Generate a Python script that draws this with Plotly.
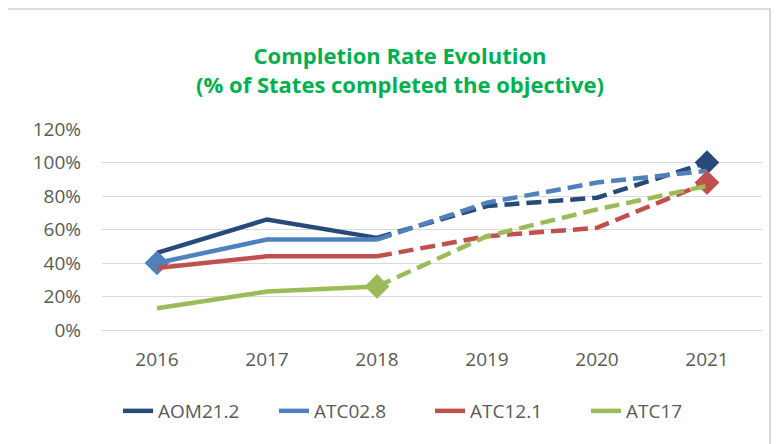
import plotly.graph_objects as go

years = ["2016", "2017", "2018", "2019", "2020", "2021"]
series_names = ["AOM21.2", "ATC02.8", "ATC12.1", "ATC17"]
aom21_2 = [0.46, 0.66, 0.55, 0.74, 0.79, 1.00]
atc02_8 = [0.40, 0.54, 0.54, 0.76, 0.88, 0.95]
atc12_1 = [0.37, 0.44, 0.44, 0.56, 0.61, 0.88]
atc17 = [0.13, 0.23, 0.26, 0.56, 0.72, 0.86]
# index of the point drawn with a diamond marker
marker_idx = [5, 0, 5, 2]
y_ticks = [0, 0.2, 0.4, 0.6, 0.8, 1.0, 1.2]

colors = ["#284A7A", "#4F81BD", "#C0504D", "#9BBB59"]
values = [aom21_2, atc02_8, atc12_1, atc17]

FONT = "Open Sans"
W, H = 775, 436          # page has an 8px body margin
L, R, T, B = 94, 21, 121, 114


def px_x(page_x):
    return (page_x - 8 - L) / (W - L - R)


def px_y(page_y):
    return 1 - (page_y - 8 - T) / (H - T - B)


fig = go.Figure()
for name, vals, col, mi in zip(series_names, values, colors, marker_idx):
    fig.add_trace(go.Scatter(x=years[:3], y=vals[:3], mode="lines", name=name,
                             line=dict(color=col, width=4.5), legendgroup=name))
    fig.add_trace(go.Scatter(x=years[2:], y=vals[2:], mode="lines", name=name,
                             line=dict(color=col, width=4.5, dash="15px,7px"),
                             showlegend=False, legendgroup=name))
    fig.add_trace(go.Scatter(x=[years[mi]], y=[vals[mi]], mode="markers",
                             marker=dict(symbol="diamond", size=19, color=col),
                             showlegend=False, legendgroup=name, hoverinfo="skip"))

fig.update_layout(
    width=W, height=H,
    margin=dict(l=L, r=R, t=T, b=B),
    paper_bgcolor="white", plot_bgcolor="white",
    font=dict(family=FONT, color="#595959", size=19),
    title=dict(text="<b>Completion Rate Evolution<br>(% of States completed the objective)</b>",
               x=(400 - 8) / W, xanchor="center", y=1 - (64 - 8) / H, yanchor="middle",
               font=dict(family=FONT, size=22, color="#00B050")),
    showlegend=True,
    legend=dict(orientation="h", x=px_x(118), xanchor="left", y=px_y(411), yanchor="middle",
                font=dict(family=FONT, size=19, color="#595959"),
                entrywidth=111, entrywidthmode="pixels", tracegroupgap=0),
    shapes=[dict(type="rect", xref="paper", yref="paper",
                 x0=px_x(7), x1=px_x(770), y0=px_y(470), y1=px_y(9),
                 line=dict(color="#D9D9D9", width=2), layer="below")],
)
fig.update_xaxes(type="category", showgrid=False, showline=True, linecolor="#D9D9D9",
                 linewidth=1, ticks="", range=[-0.5, 5.5], ticklabelstandoff=12,
                 tickfont=dict(size=19))
fig.update_yaxes(range=[0, 1.2], tickvals=y_ticks, tickformat=".0%", showgrid=True,
                 gridcolor="#D9D9D9", gridwidth=1, zeroline=False, ticklabelstandoff=20,
                 tickfont=dict(size=19))
fig.write_html("out.html")
